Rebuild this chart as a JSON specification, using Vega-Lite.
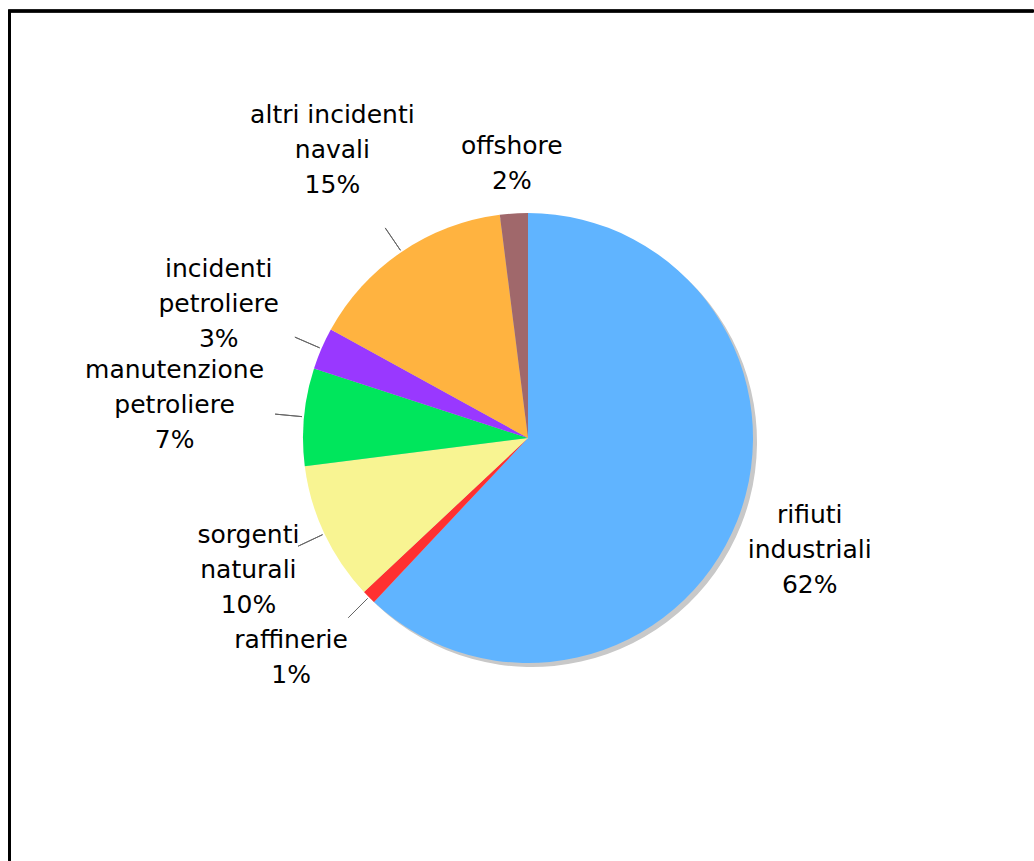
{
  "$schema": "https://vega.github.io/schema/vega-lite/v6.json",
  "autosize": "none",
  "width": 1037,
  "height": 854,
  "padding": {"left": 9.5, "top": 11, "right": -12.5, "bottom": -4},
  "background": "white",
  "config": {"view": {"stroke": null}},
  "data": {
    "values": [
      {"category": "rifiuti industriali", "label": "rifiuti\nindustriali\n62%", "value": 62, "order": 1},
      {"category": "raffinerie", "label": "raffinerie\n1%", "value": 1, "order": 2},
      {"category": "sorgenti naturali", "label": "sorgenti\nnaturali\n10%", "value": 10, "order": 3},
      {"category": "manutenzione petroliere", "label": "manutenzione\npetroliere\n7%", "value": 7, "order": 4},
      {"category": "incidenti petroliere", "label": "incidenti\npetroliere\n3%", "value": 3, "order": 5},
      {"category": "altri incidenti navali", "label": "altri incidenti\nnavali\n15%", "value": 15, "order": 6},
      {"category": "offshore", "label": "offshore\n2%", "value": 2, "order": 7}
    ]
  },
  "layer": [
    {
      "mark": {"type": "rule", "stroke": "#000000", "strokeWidth": 2.5},
      "encoding": {
        "x": {"datum": -0.0012, "type": "quantitative", "scale": {"domain": [0, 1], "nice": false, "zero": false}, "axis": null},
        "x2": {"datum": 0.9875},
        "y": {"datum": 1, "type": "quantitative", "scale": {"domain": [0, 1], "nice": false, "zero": false}, "axis": null}
      }
    },
    {
      "mark": {"type": "rule", "stroke": "#000000", "strokeWidth": 2.5},
      "encoding": {
        "x": {"datum": 0, "type": "quantitative", "scale": {"domain": [0, 1], "nice": false, "zero": false}, "axis": null},
        "y": {"datum": 1, "type": "quantitative", "scale": {"domain": [0, 1], "nice": false, "zero": false}, "axis": null},
        "y2": {"datum": 0.0053}
      }
    },
    {
      "mark": {"type": "arc", "outerRadius": 225, "xOffset": 4, "yOffset": 4, "color": "#c8c8c8"},
      "encoding": {
        "theta": {"field": "value", "type": "quantitative", "stack": true},
        "order": {"field": "order", "type": "quantitative", "sort": "ascending"}
      }
    },
    {
      "mark": {"type": "arc", "outerRadius": 225},
      "encoding": {
        "theta": {"field": "value", "type": "quantitative", "stack": true},
        "order": {"field": "order", "type": "quantitative", "sort": "ascending"},
        "color": {
          "field": "category",
          "type": "nominal",
          "scale": {
            "domain": ["rifiuti industriali", "raffinerie", "sorgenti naturali", "manutenzione petroliere", "incidenti petroliere", "altri incidenti navali", "offshore"],
            "range": ["#60b4ff", "#ff3030", "#f8f492", "#00e65c", "#9938ff", "#ffb340", "#a0686b"]
          },
          "legend": null
        }
      }
    },
    {
      "mark": {"type": "arc", "innerRadius": 227, "outerRadius": 254, "padAngle": 0.8, "fillOpacity": 0, "stroke": "#666666", "strokeWidth": 1},
      "encoding": {
        "theta": {"field": "value", "type": "quantitative", "stack": true},
        "order": {"field": "order", "type": "quantitative", "sort": "ascending"},
        "strokeOpacity": {
          "condition": {"test": "datum.category === 'rifiuti industriali' || datum.category === 'offshore'", "value": 0},
          "value": 1
        }
      }
    },
    {
      "mark": {"type": "text", "fontSize": 25, "font": "DejaVu Sans", "lineBreak": "\n", "lineHeight": 35, "dy": -35, "color": "#000000"},
      "encoding": {
        "theta": {"field": "value", "type": "quantitative", "stack": true},
        "order": {"field": "order", "type": "quantitative", "sort": "ascending"},
        "radius": {
          "field": "value",
          "type": "quantitative",
          "scale": {"type": "linear", "zero": false, "nice": false, "domain": [1, 2, 3, 7, 10, 15, 62], "range": [335, 258, 337, 355, 309, 348, 303]},
          "legend": null
        },
        "text": {"field": "label"}
      }
    }
  ]
}
